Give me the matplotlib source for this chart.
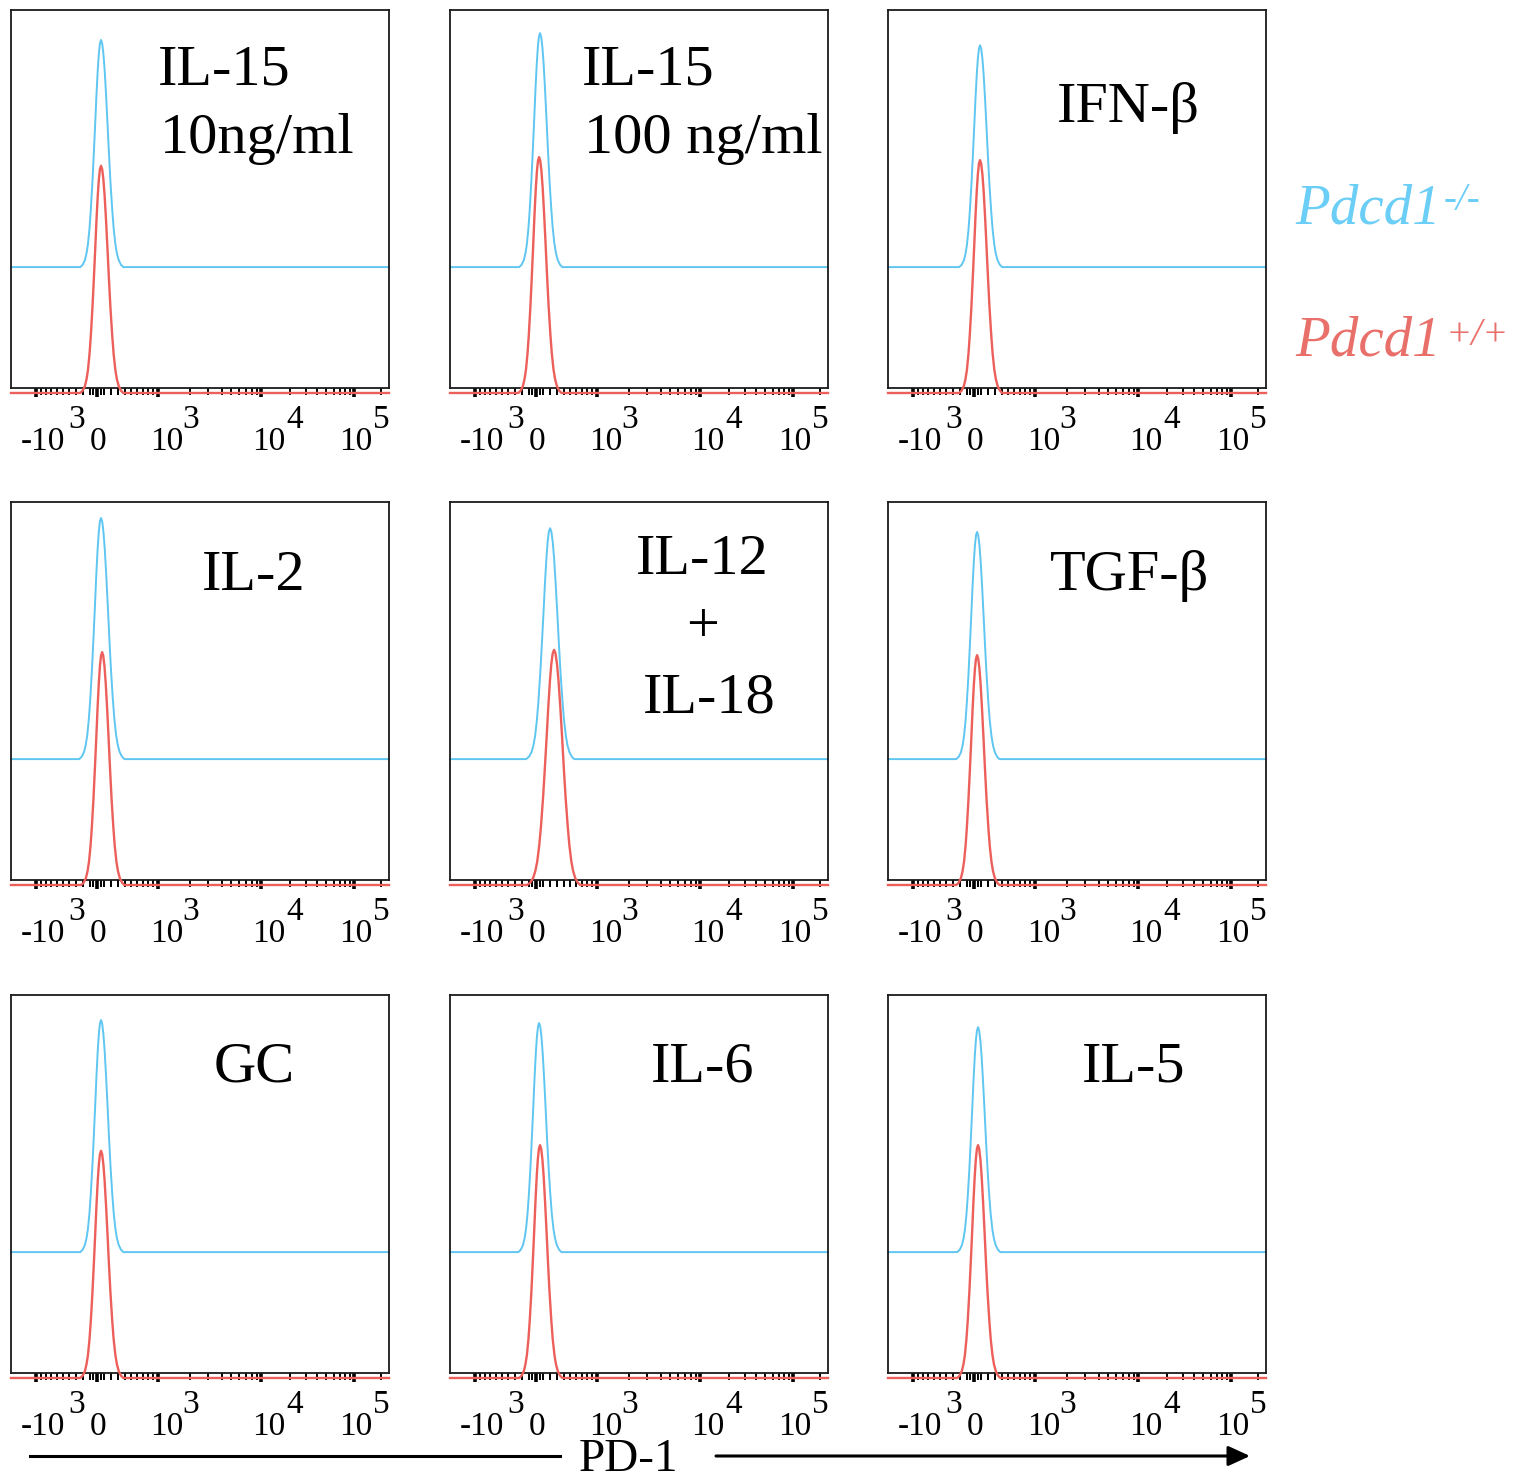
import numpy as np
import matplotlib
matplotlib.use("Agg")
import matplotlib.pyplot as plt
from matplotlib import transforms as mtransforms
from matplotlib.patches import FancyArrowPatch
from matplotlib.lines import Line2D

plt.rcParams['font.family'] = ['Liberation Serif', 'DejaVu Serif']

# ---------------- data ----------------
panel_titles = [["IL-15", "10ng/ml"], ["IL-15", "100 ng/ml"], ["IFN-β"],
                ["IL-2"], ["IL-12", "+", "IL-18"], ["TGF-β"],
                ["GC"], ["IL-6"], ["IL-5"]]
# PD-1 fluorescence at peak (mode) of each histogram
ko_center = [55, 55, 83, 55, 196, 42, 55, 42, 55]      # Pdcd1-/-
wt_center = [55, 42, 83, 70, 253, 42, 55, 55, 55]      # Pdcd1+/+
# peak heights (% of panel height)
ko_height = [60.1, 61.9, 58.7, 63.8, 61.1, 60.1, 61.4, 60.6, 59.5]
wt_height = [60.1, 62.4, 61.6, 61.6, 62.2, 60.8, 60.1, 61.6, 61.6]
# relative spread of each histogram
ko_spread = [1.0, 1.0, 1.0, 1.05, 1.15, 1.0, 1.0, 1.0, 1.0]
wt_spread = [1.0, 1.0, 1.0, 1.0, 1.3, 1.0, 1.0, 1.0, 1.0]
# histogram shape: offset from mode (fluorescence units), fraction of mode
profile_offset = [-292, -257, -225, -202, -182, -160, -142, -120, -100, -81, -63, -45, -30, -15, 0,
                  16, 33, 50, 70, 91, 111, 133, 158, 178, 203, 225, 252, 286, 320]
profile_frac = [0, 0.01, 0.03, 0.06, 0.10, 0.17, 0.25, 0.37, 0.50, 0.63, 0.76, 0.87, 0.94, 0.985, 1.0,
                0.985, 0.94, 0.87, 0.76, 0.63, 0.50, 0.37, 0.25, 0.17, 0.10, 0.06, 0.03, 0.01, 0]
ko_lane = 33.3   # offset of the Pdcd1-/- histogram
wt_lane = 0.0

major_ticks = [-1000, 0, 1000, 10000, 100000]
major_labels = ["-10", "0", "10", "10", "10"]
major_exponents = ["3", "", "3", "4", "5"]
minor_ticks = ([-900, -800, -700, -600, -500, -400, -300, -200, -100, -50, 50] +
               [100, 200, 300, 400, 500, 600, 700, 800, 900] +
               [2000, 3000, 4000, 5000, 6000, 7000, 8000, 9000] +
               [20000, 30000, 40000, 50000, 60000, 70000, 80000, 90000, 200000])
legend_names = ["Pdcd1", "Pdcd1"]
legend_genotypes = ["-/-", "+/+"]
axis_label = "PD-1"

# ---------------- biexponential (logicle-like) scale ----------------
BX_A, BX_P = 139.0, 2.9
def _biex(u):
    u = np.asarray(u, dtype=float)
    return BX_A * (10 ** u - BX_P ** 2 * 10 ** (-u / BX_P) + BX_P ** 2 - 1)
_grid_u = np.linspace(0, 6, 6001)
_grid_x = _biex(_grid_u)
def fwd(x):
    x = np.asarray(x, dtype=float)
    return np.sign(x) * np.interp(np.abs(x), _grid_x, _grid_u)
def inv(u):
    u = np.asarray(u, dtype=float)
    return np.sign(u) * _biex(np.abs(u))

XMIN, XMAX = -1740, 245000
BLUE, RED = "#5EC6F0", "#EC5F5A"
BLUE_TXT, RED_TXT = "#6BCEF6", "#E9706A"

W, H = 1514, 1482
fig = plt.figure(figsize=(W / 100, H / 100), dpi=100)
col_left = [11, 450, 888]
row_top = [10, 502, 995]
BOX = 378

# title layout (axes fraction): per panel list of (x, y, ha)
title_pos = [
    [(0.389, 0.802, 'left'), (0.394, 0.622, 'left')],
    [(0.349, 0.802, 'left'), (0.354, 0.622, 'left')],
    [(0.635, 0.704, 'center')],
    [(0.643, 0.767, 'center')],
    [(0.667, 0.809, 'center'), (0.667, 0.630, 'center'), (0.685, 0.444, 'center')],
    [(0.638, 0.767, 'center')],
    [(0.643, 0.770, 'center')],
    [(0.667, 0.770, 'center')],
    [(0.651, 0.770, 'center')],
]
label_dx_px = [6, 1.5, 9, 8, 2]
exp_dx_px = [40, 0, 33, 34, 28]
TICK_FS = 24

for i in range(9):
    r, c = divmod(i, 3)
    ax = fig.add_axes([col_left[c] / W, 1 - (row_top[r] + BOX) / H, BOX / W, BOX / H])
    ax.set_xscale('function', functions=(fwd, inv))
    ax.set_xlim(XMIN, XMAX)
    ax.set_ylim(wt_lane + 1.32, wt_lane + 101.32)

    for cen, hgt, spr, lane, col, lw in [
            (ko_center[i], ko_height[i], ko_spread[i], ko_lane, BLUE, 1.4),
            (wt_center[i], wt_height[i], wt_spread[i], wt_lane, RED, 1.7)]:
        xs = [XMIN] + [cen + spr * o for o in profile_offset] + [XMAX]
        ys = [lane] + [lane + hgt * f for f in profile_frac] + [lane]
        ax.plot(xs, ys, color=col, lw=lw, clip_on=False, zorder=3 if col == RED else 2)

    for sp in ax.spines.values():
        sp.set_linewidth(1.3)
        sp.set_color("#1a1a1a")
    ax.set_yticks([])
    ax.set_xticks(major_ticks)
    ax.set_xticks(minor_ticks, minor=True)
    ax.set_xticklabels(major_labels)
    ax.xaxis.set_minor_formatter(matplotlib.ticker.NullFormatter())
    ax.tick_params(axis='x', which='major', direction='out', length=6.5, width=2.6,
                   pad=21, labelsize=TICK_FS, colors='black')
    ax.tick_params(axis='x', which='minor', direction='out', length=4.8, width=1.4, colors='black')
    for lab, dx in zip(ax.get_xticklabels(), label_dx_px):
        lab.set_transform(lab.get_transform() + mtransforms.ScaledTranslation(dx / 100, 0, fig.dpi_scale_trans))
    for t, e, dx in zip(major_ticks, major_exponents, exp_dx_px):
        if e:
            ax.annotate(e, xy=(t, 0), xycoords=('data', 'axes fraction'),
                        xytext=(dx * 0.72, -40 * 0.72), textcoords='offset points',
                        ha='center', va='baseline', fontsize=TICK_FS)
    for txt, (tx, ty, ha) in zip(panel_titles[i], title_pos[i]):
        ax.text(tx, ty, txt, transform=ax.transAxes, ha=ha, va='baseline', fontsize=42)

# legend (gene name in italics with genotype superscript)
for name, gt, col, yb, ys, xs in [(legend_names[0], legend_genotypes[0], BLUE_TXT, 223, 210, 1444),
                                  (legend_names[1], legend_genotypes[1], RED_TXT, 355, 345, 1446)]:
    fig.text(1295 / W, 1 - yb / H, name, color=col, fontsize=41, style='italic',
             ha='left', va='baseline')
    fig.text(xs / W, 1 - ys / H, gt, color=col, fontsize=28, style='italic',
             ha='left', va='baseline')

# PD-1 axis title with arrow
fig.text(628 / W, 0.0005, axis_label, fontsize=34, ha='center', va='bottom')
ya = 1 - 1456 / H
fig.add_artist(Line2D([30 / W, 560 / W], [ya, ya], transform=fig.transFigure, color='black', lw=2.2))
fig.add_artist(FancyArrowPatch((716 / W, ya), (1250 / W, ya), transform=fig.transFigure,
                               arrowstyle='-|>,head_length=1.2,head_width=0.55', mutation_scale=11,
                               color='black', lw=2.2, shrinkA=0, shrinkB=0))

fig.savefig("out.png", dpi=100)
